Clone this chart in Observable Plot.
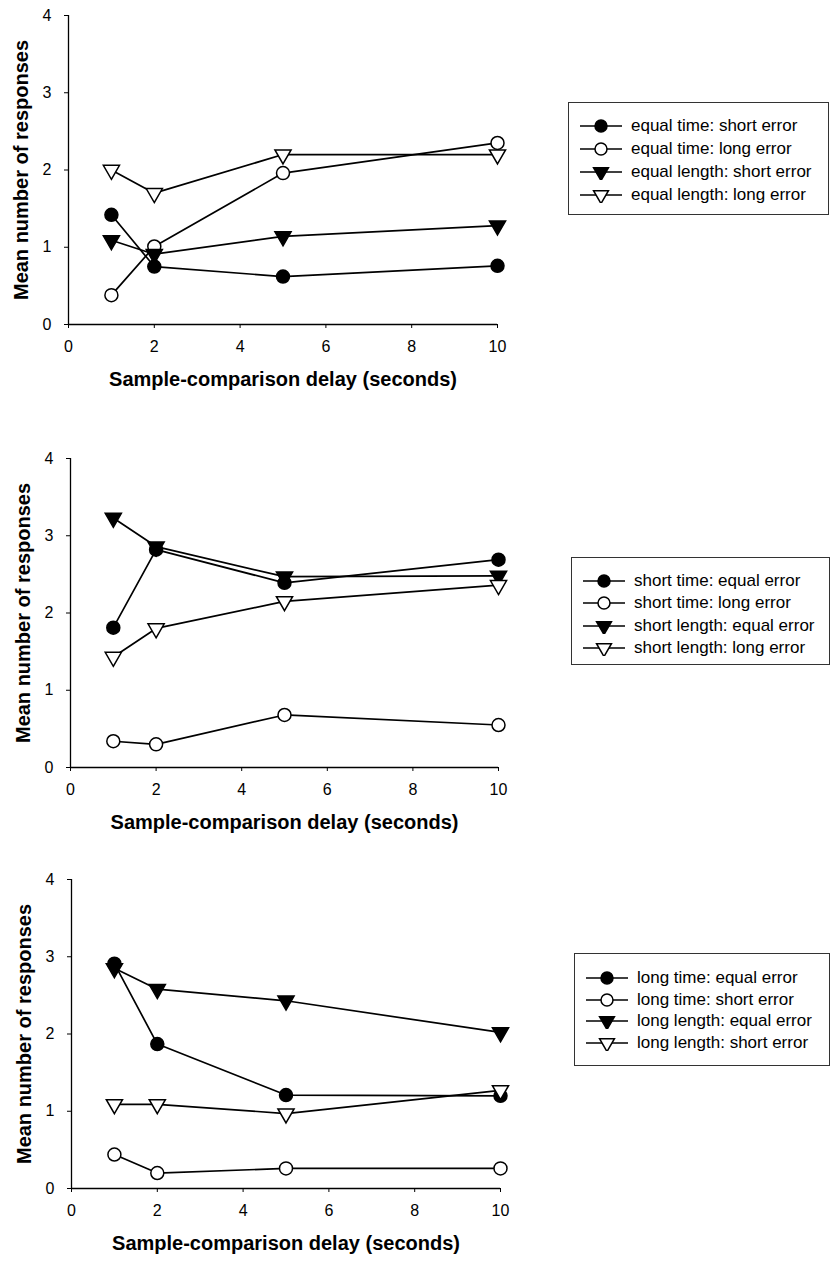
<!DOCTYPE html>
<html><head><meta charset="utf-8">
<script src="https://cdn.jsdelivr.net/npm/d3@7"></script>
<script src="https://cdn.jsdelivr.net/npm/@observablehq/plot@0.6"></script>
<style>
body{margin:0;background:#fff;font-family:"Liberation Sans",Arial,sans-serif;}
#wrap{position:relative;width:832px;height:1263px;overflow:hidden;background:#fff;}
.panel{position:absolute;left:0;}
.legend{position:absolute;border:1px solid #333;background:#fff;box-sizing:border-box;}
.row{display:flex;align-items:center;font-size:17px;color:#000;white-space:nowrap;padding-left:11px;}
.row svg{flex:none;margin-right:9px;}
</style></head><body><div id="wrap"></div>
<script>
// x values (seconds)
const delays = [1, 2, 5, 10];
const xTicks = [0, 2, 4, 6, 8, 10];
const yTicks = [0, 1, 2, 3, 4];
const xLabel = "Sample-comparison delay (seconds)";
const yLabel = "Mean number of responses";

// Panel 1
const p1Names = ["equal time: short error", "equal time: long error", "equal length: short error", "equal length: long error"];
const p1EqualTimeShort = [1.42, 0.75, 0.62, 0.76];
const p1EqualTimeLong = [0.38, 1.01, 1.96, 2.35];
const p1EqualLengthShort = [1.09, 0.91, 1.14, 1.28];
const p1EqualLengthLong = [2.00, 1.70, 2.20, 2.20];

// Panel 2
const p2Names = ["short time: equal error", "short time: long error", "short length: equal error", "short length: long error"];
const p2ShortTimeEqual = [1.81, 2.82, 2.39, 2.69];
const p2ShortTimeLong = [0.34, 0.30, 0.68, 0.55];
const p2ShortLengthEqual = [3.23, 2.86, 2.47, 2.48];
const p2ShortLengthLong = [1.43, 1.80, 2.15, 2.36];

// Panel 3
const p3Names = ["long time: equal error", "long time: short error", "long length: equal error", "long length: short error"];
const p3LongTimeEqual = [2.91, 1.87, 1.21, 1.20];
const p3LongTimeShort = [0.44, 0.20, 0.26, 0.26];
const p3LongLengthEqual = [2.85, 2.58, 2.43, 2.02];
const p3LongLengthShort = [1.09, 1.09, 0.97, 1.27];

const triangleDown = {
  draw(context, size) {
    const y = -Math.sqrt(size / (Math.sqrt(3) * 3));
    context.moveTo(0, -2 * y);
    context.lineTo(-Math.sqrt(3) * y, y);
    context.lineTo(Math.sqrt(3) * y, y);
    context.closePath();
  }
};
const styles = [
  {symbol: "circle", fill: "#000", r: 6.5},
  {symbol: "circle", fill: "#fff", r: 6.5},
  {symbol: triangleDown, fill: "#000", r: 6},
  {symbol: triangleDown, fill: "#fff", r: 6}
];

function makePlot(names, series, ml, x10) {
  const rows = [];
  names.forEach((n, i) => series[i].forEach((v, j) => rows.push({series: n, k: i, delay: delays[j], value: v})));
  const marks = [
    Plot.ruleY([0], {stroke: "#000", strokeWidth: 1.3}),
    Plot.ruleX([0], {stroke: "#000", strokeWidth: 1.3}),
    Plot.axisX({ticks: xTicks, tickFormat: d3.format("d"), tickSize: 4, tickPadding: 12, fontSize: 16, label: null}),
    Plot.axisY({ticks: yTicks, tickFormat: d3.format("d"), tickSize: 4, tickPadding: 13, fontSize: 16, label: null}),
    Plot.lineY(rows, {x: "delay", y: "value", z: "series", stroke: "#000", strokeWidth: 1.7})
  ];
  styles.forEach((s, i) => {
    marks.push(Plot.dot(rows.filter(d => d.k === i), {
      x: "delay", y: "value", symbol: s.symbol, r: s.r, fill: s.fill, stroke: "#000", strokeWidth: 1.5
    }));
  });
  marks.push(Plot.text([xLabel], {text: d => d, frameAnchor: "bottom", dy: 61, fontSize: 20, fontWeight: "bold"}));
  marks.push(Plot.text([yLabel], {text: d => d, frameAnchor: "left", textAnchor: "middle", dx: -47, rotate: -90, fontSize: 20, fontWeight: "bold"}));
  return Plot.plot({
    width: 540, height: 400,
    marginTop: 15, marginBottom: 76, marginLeft: ml, marginRight: 540 - x10,
    x: {domain: [0, 10]}, y: {domain: [0, 4]},
    style: {fontFamily: "'Liberation Sans', Arial, sans-serif", color: "#000", background: "transparent"},
    marks
  });
}

function legendSymbol(i) {
  const s = styles[i];
  const size = Math.PI * s.r * s.r * 0.85;
  const path = d3.symbol().type(s.symbol === "circle" ? d3.symbolCircle : triangleDown).size(size)();
  return `<svg width="42" height="16" viewBox="0 0 42 16"><line x1="0" x2="42" y1="8" y2="8" stroke="#000" stroke-width="1.5"/>` +
    `<path d="${path}" transform="translate(21,8)" fill="${s.fill}" stroke="#000" stroke-width="1.5"/></svg>`;
}

function makeLegend(names, box) {
  const div = document.createElement("div");
  div.className = "legend";
  Object.assign(div.style, {left: box.left + "px", top: box.top + "px", width: box.w + "px", height: box.h + "px", paddingTop: box.pad + "px"});
  div.innerHTML = names.map((n, i) => `<div class="row" style="height:${box.rowH}px">${legendSymbol(i)}<span>${n}</span></div>`).join("");
  return div;
}

const wrap = document.getElementById("wrap");
const panels = [
  {names: p1Names, series: [p1EqualTimeShort, p1EqualTimeLong, p1EqualLengthShort, p1EqualLengthLong], top: 0, ml: 68, x10: 497,
   box: {left: 568, top: 102, w: 261, h: 113, rowH: 23, pad: 11.5}},
  {names: p2Names, series: [p2ShortTimeEqual, p2ShortTimeLong, p2ShortLengthEqual, p2ShortLengthLong], top: 443, ml: 70, x10: 498,
   box: {left: 571, top: 557, w: 259, h: 108, rowH: 22.3, pad: 11.8}},
  {names: p3Names, series: [p3LongTimeEqual, p3LongTimeShort, p3LongLengthEqual, p3LongLengthShort], top: 864, ml: 71, x10: 500,
   box: {left: 574, top: 953, w: 256, h: 113, rowH: 21.7, pad: 13.1}}
];
panels.forEach(p => {
  const holder = document.createElement("div");
  holder.className = "panel";
  holder.style.top = p.top + "px";
  holder.appendChild(makePlot(p.names, p.series, p.ml, p.x10));
  wrap.appendChild(holder);
  wrap.appendChild(makeLegend(p.names, p.box));
});
</script></body></html>
